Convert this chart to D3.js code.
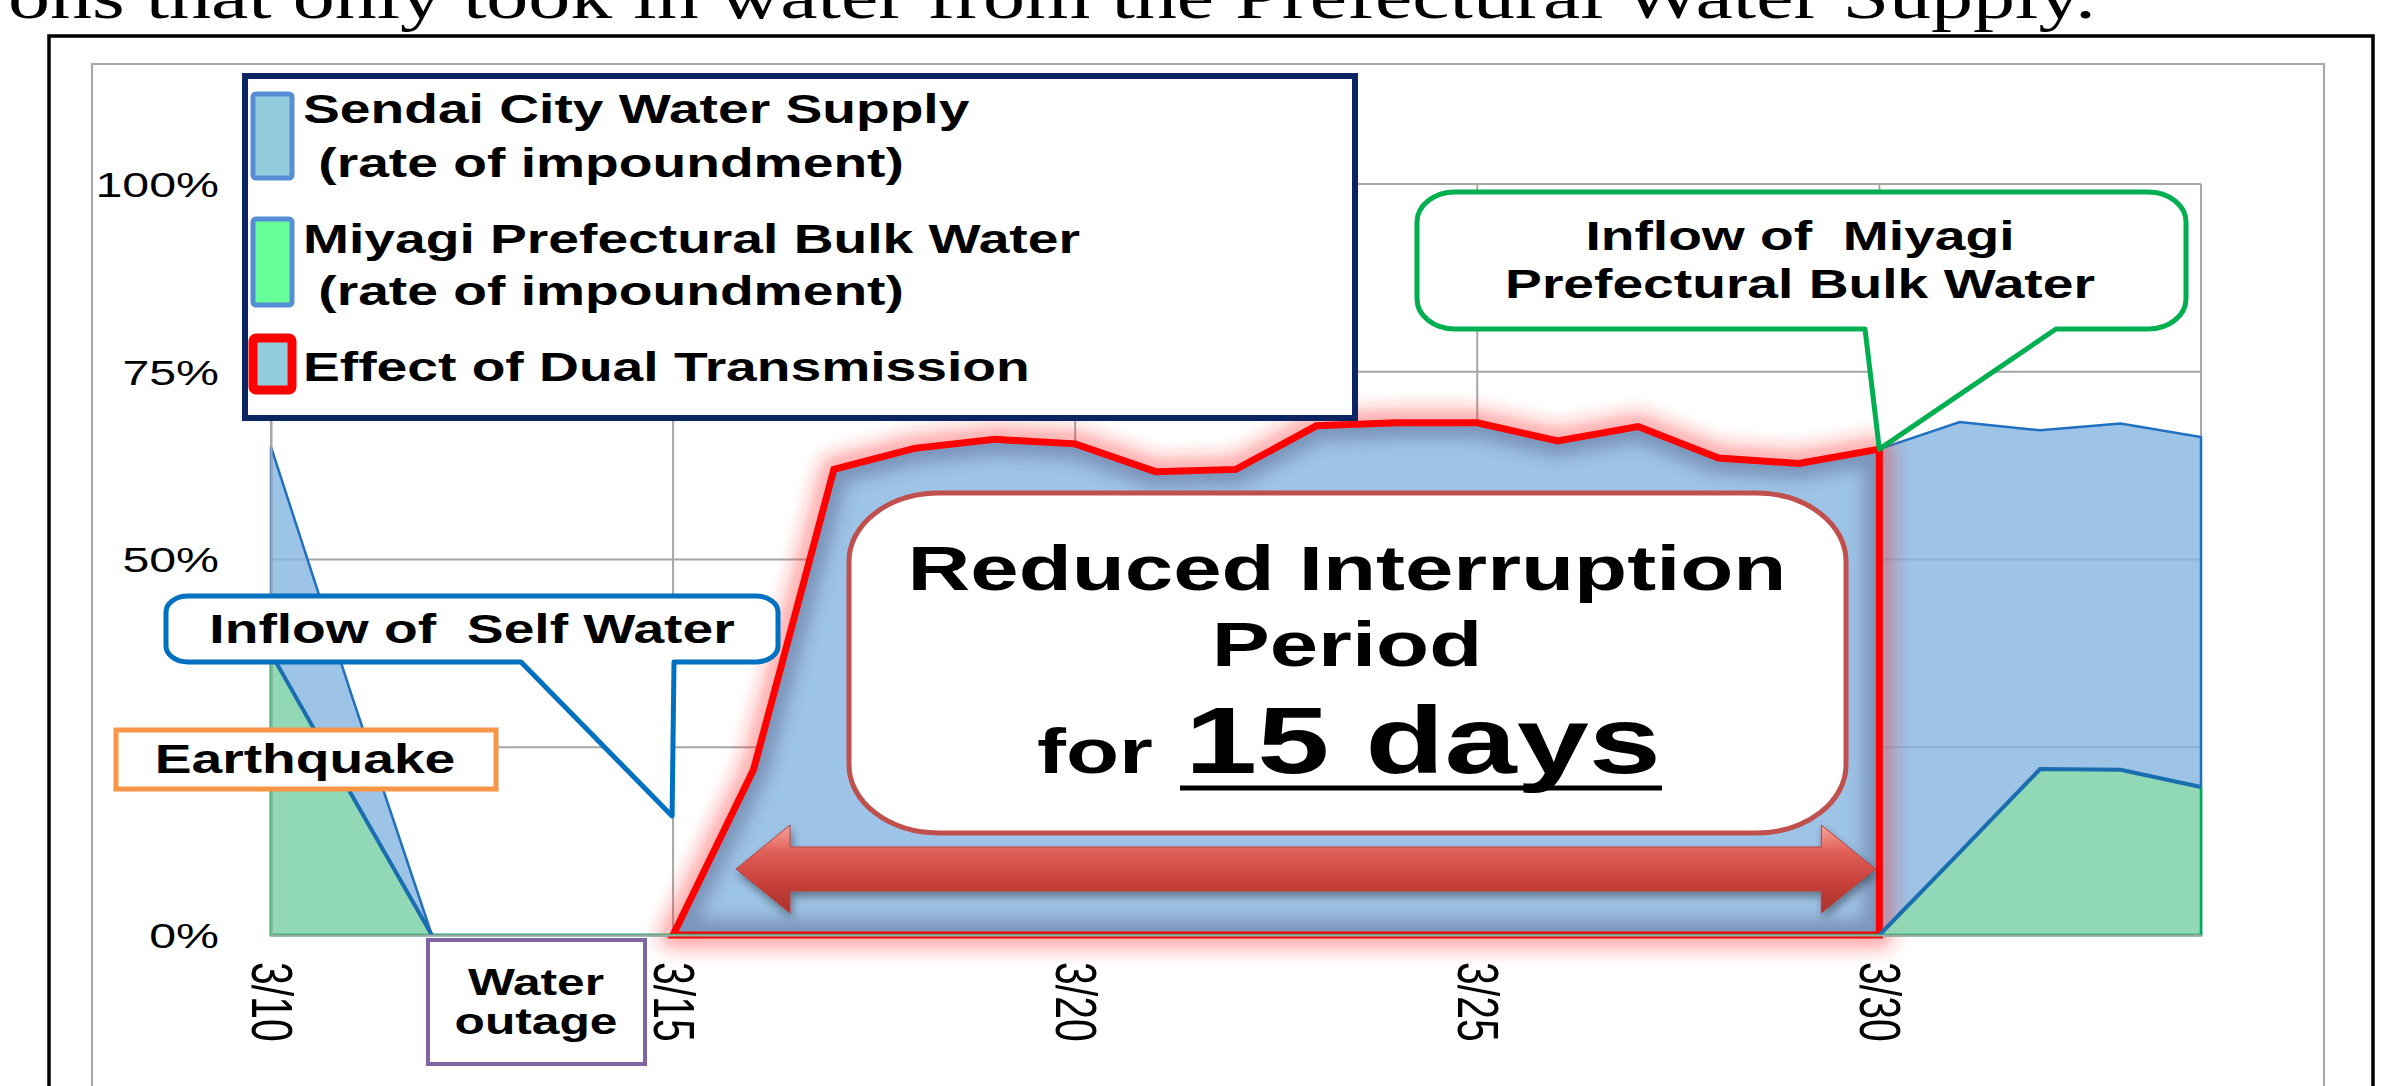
<!DOCTYPE html>
<html>
<head>
<meta charset="utf-8">
<script src="https://cdn.jsdelivr.net/npm/d3@7"></script>
<style>
	body { margin: 0; background: #fff; }
	svg { display: block; }
	text { font-family: "Liberation Sans", Arial, sans-serif; fill: #000; }
</style>
</head>
<body>
<div id="chart"></div>
<script>
"use strict";

// the slide picture is stretched sideways, so all text is too
const W = 2399, H = 1086;
const STRETCH = 1.38;
const PLOT = { left: 271, right: 2201, top: 184, bottom: 935 };

// values, percent of impoundment
const dayLabels = ["3/10", "3/11", "3/12", "3/13", "3/14", "3/15", "3/16", "3/17", "3/18", "3/19", "3/20",
	"3/21", "3/22", "3/23", "3/24", "3/25", "3/26", "3/27", "3/28", "3/29", "3/30", "3/31", "4/1", "4/2", "4/3"];
const sendaiRate = [65, 32, 0, 0, 0, 0, 22, 62, 64.8, 66, 65.4, 61.7, 62, 67.8, 68.2, 68.2, 65.8, 67.7, 63.5, 62.8, 64.7, 68.3, 67.2, 68.1, 66.3];
const miyagiRate = [37.5, 18.7, 0, 0, 0, 0, 0, 0, 0, 0, 0, 0, 0, 0, 0, 0, 0, 0, 0, 0, 0, 11, 22.1, 22, 19.7];
const dualEffect = [null, null, null, null, null, 0, 22, 62, 64.8, 66, 65.4, 61.7, 62, 67.8, 68.2, 68.2, 65.8, 67.7, 63.5, 62.8, 64.7, null, null, null, null];
const tickLabels = ["3/10", "3/15", "3/20", "3/25", "3/30"];
const yTicks = [0, 0.25, 0.5, 0.75, 1];

const parseDay = s => d3.utcParse("%m/%d/%Y")(s + "/2011");

let rows = dayLabels.map((s, i) => ({
	date: parseDay(s),
	sendai: sendaiRate[i] / 100,
	miyagi: miyagiRate[i] / 100,
	effect: dualEffect[i] == null ? null : dualEffect[i] / 100
}));
const tickDates = tickLabels.map(parseDay);

const x = d3.scaleUtc()
	.domain(d3.extent(rows, d => d.date))
	.range([PLOT.left, PLOT.right]);

const y = d3.scaleLinear()
	.domain([0, 1])
	.range([PLOT.bottom, PLOT.top]);

let svg = d3.select("#chart")
	.append("svg")
	.attr("width", W)
	.attr("height", H);

let defs = svg.append("defs");
defs.append("filter").attr("id", "glow")
	.attr("filterUnits", "userSpaceOnUse").attr("x", 0).attr("y", 0).attr("width", W).attr("height", H)
	.append("feGaussianBlur").attr("stdDeviation", 9);
defs.append("filter").attr("id", "shade")
	.attr("filterUnits", "userSpaceOnUse").attr("x", 0).attr("y", 0).attr("width", W).attr("height", H)
	.append("feGaussianBlur").attr("stdDeviation", 8);
defs.append("filter").attr("id", "drop")
	.attr("x", "-5%").attr("y", "-30%").attr("width", "110%").attr("height", "170%")
	.append("feDropShadow").attr("dx", 2).attr("dy", 5).attr("stdDeviation", 4).attr("flood-opacity", 0.4);

let grad = defs.append("linearGradient").attr("id", "arrowFill")
	.attr("x1", 0).attr("y1", 0).attr("x2", 0).attr("y2", 1);
[["0", "#f7a29c"], ["0.3", "#e0615a"], ["0.65", "#c9403a"], ["1", "#a8322d"]]
	.forEach(s => grad.append("stop").attr("offset", s[0]).attr("stop-color", s[1]));

// text helper: every label gets the same sideways stretch
function stretchText(parent, str, tx, ty, size, anchor = "start", weight = "bold") {
	return parent.append("text")
		.attr("transform", `translate(${tx},${ty}) scale(${STRETCH},1)`)
		.attr("font-size", size)
		.attr("font-weight", weight)
		.attr("text-anchor", anchor)
		.style("white-space", "pre")
		.text(str);
}

// rounded box with a speech tail on the bottom edge
function calloutPath(b) {
	const { x0, y0, w, h, rx, ry, t1, t2, tx, ty } = b;
	return `M${x0 + rx},${y0}H${x0 + w - rx}A${rx},${ry} 0 0 1 ${x0 + w},${y0 + ry}V${y0 + h - ry}` +
		`A${rx},${ry} 0 0 1 ${x0 + w - rx},${y0 + h}H${t2}L${tx},${ty}L${t1},${y0 + h}H${x0 + rx}` +
		`A${rx},${ry} 0 0 1 ${x0},${y0 + h - ry}V${y0 + ry}A${rx},${ry} 0 0 1 ${x0 + rx},${y0}Z`;
}

// slide text above the frame, cut by the top edge
svg.append("text")
	.attr("x", 8).attr("y", 18)
	.style("font-family", "'Liberation Serif', 'Times New Roman', serif")
	.attr("font-size", 64)
	.attr("textLength", 2088)
	.attr("lengthAdjust", "spacingAndGlyphs")
	.text("ons that only took in water from the Prefectural Water Supply.");

// frame and chart area
svg.append("path")
	.attr("d", `M49,${H + 10}V36H2373V${H + 10}`)
	.attr("fill", "none").attr("stroke", "#000").attr("stroke-width", 3.5);
svg.append("path")
	.attr("d", `M92,${H + 10}V64H2324V${H + 10}`)
	.attr("fill", "none").attr("stroke", "#a6a6a6").attr("stroke-width", 2);

let plot = svg.append("g");

// gridlines
plot.selectAll(".hgrid")
	.data(yTicks.slice(1))
	.enter().append("line")
	.attr("x1", PLOT.left).attr("x2", PLOT.right)
	.attr("y1", d => y(d)).attr("y2", d => y(d))
	.attr("stroke", "#a6a6a6").attr("stroke-width", 2);
plot.selectAll(".vgrid")
	.data(tickDates.concat([x.domain()[1]]))
	.enter().append("line")
	.attr("x1", d => x(d)).attr("x2", d => x(d))
	.attr("y1", PLOT.top).attr("y2", PLOT.bottom)
	.attr("stroke", "#a6a6a6").attr("stroke-width", 2);

// series shapes
const areaOf = key => d3.area()
	.defined(d => d[key] != null)
	.x(d => x(d.date))
	.y0(y(0))
	.y1(d => y(d[key]));

const sendaiArea = areaOf("sendai");
const miyagiArea = areaOf("miyagi");
const effectArea = areaOf("effect");

plot.append("path")
	.attr("d", sendaiArea(rows))
	.attr("fill", "#85b4e0").attr("fill-opacity", 0.8)
	.attr("stroke", "#1f70c1").attr("stroke-width", 2.5);

// effect of dual transmission: red outline with a soft halo
const effectD = effectArea(rows);
defs.append("clipPath").attr("id", "effectClip").append("path").attr("d", effectD);

plot.append("path")
	.attr("d", effectD)
	.attr("fill", "none").attr("stroke", "#ff2a2a").attr("stroke-opacity", 0.4)
	.attr("stroke-width", 28).attr("stroke-linejoin", "round")
	.attr("filter", "url(#glow)");
plot.append("path")
	.attr("d", effectD)
	.attr("fill", "#9dc3e6");
plot.append("g").attr("clip-path", "url(#effectClip)")
	.append("path")
	.attr("d", effectD)
	.attr("fill", "none").attr("stroke", "#4a4f78").attr("stroke-opacity", 0.4)
	.attr("stroke-width", 32).attr("filter", "url(#shade)");
plot.append("path")
	.attr("d", effectD)
	.attr("fill", "none").attr("stroke", "#ff0000")
	.attr("stroke-width", 7).attr("stroke-linejoin", "miter");

plot.append("path")
	.attr("d", miyagiArea(rows))
	.attr("fill", "#8fdab0").attr("fill-opacity", 0.9)
	.attr("stroke", "#00b050").attr("stroke-width", 2.5);

plot.append("path")
	.attr("d", d3.line()
		.defined((d, i) => d.miyagi > 0 || (rows[i - 1] && rows[i - 1].miyagi > 0) || (rows[i + 1] && rows[i + 1].miyagi > 0))
		.x(d => x(d.date))
		.y(d => y(d.miyagi))(rows))
	.attr("fill", "none").attr("stroke", "#1a6daf").attr("stroke-width", 4);

// axes
let xAxis = plot.append("g")
	.attr("transform", `translate(0,${PLOT.bottom})`)
	.call(d3.axisBottom(x).tickValues(tickDates).tickFormat(d3.utcFormat("%-m/%-d")).tickSize(0).tickSizeOuter(0));
xAxis.select(".domain").attr("stroke", "#a6a6a6").attr("stroke-width", 2);
xAxis.selectAll("text")
	.attr("y", null).attr("x", 0).attr("dy", "0.35em")
	.attr("text-anchor", "start")
	.attr("font-size", 41)
	.attr("fill", "#000")
	.attr("transform", `translate(0,27) scale(${STRETCH},1) rotate(90)`);

let yAxis = plot.append("g")
	.attr("transform", `translate(${PLOT.left},0)`)
	.call(d3.axisLeft(y).tickValues(yTicks).tickFormat(d3.format(".0%")).tickSize(0).tickSizeOuter(0));
yAxis.select(".domain").attr("stroke", "#a6a6a6").attr("stroke-width", 2);
yAxis.selectAll("text")
	.attr("x", null).attr("dy", "0.35em")
	.attr("font-size", 35)
	.attr("fill", "#000")
	.attr("transform", `translate(-52,0) scale(${STRETCH},1)`);
// the 25% label sits under the Earthquake box in the original
yAxis.selectAll(".tick").filter(d => d === 0.25).select("text").remove();

let notes = svg.append("g");

// 15 day double arrow
const arrowL = 736, arrowR = x(tickDates[4]) - 4, arrowY = 869;
const head = 54, shaft = 22, barb = 44;
notes.append("path")
	.attr("d", `M${arrowL},${arrowY}L${arrowL + head},${arrowY - barb}V${arrowY - shaft}H${arrowR - head}V${arrowY - barb}` +
		`L${arrowR},${arrowY}L${arrowR - head},${arrowY + barb}V${arrowY + shaft}H${arrowL + head}V${arrowY + barb}Z`)
	.attr("fill", "url(#arrowFill)")
	.attr("stroke", "#b5403a").attr("stroke-width", 1)
	.attr("filter", "url(#drop)");

// reduced interruption box
notes.append("rect")
	.attr("x", 849).attr("y", 493).attr("width", 997).attr("height", 340)
	.attr("rx", 90).attr("ry", 68)
	.attr("fill", "#fff").attr("stroke", "#c0504d").attr("stroke-width", 5);
stretchText(notes, "Reduced Interruption", 1347, 590, 63, "middle");
stretchText(notes, "Period", 1347, 666, 63, "middle");
stretchText(notes, "for", 1037, 773, 63);
stretchText(notes, "15 days", 1185, 773, 94);
notes.append("line")
	.attr("x1", 1180).attr("x2", 1662).attr("y1", 788).attr("y2", 788)
	.attr("stroke", "#000").attr("stroke-width", 5);

// callouts
notes.append("path")
	.attr("d", calloutPath({ x0: 166, y0: 596, w: 612, h: 66, rx: 22, ry: 16, t1: 521, t2: 674, tx: x(tickDates[1]) - 1, ty: 816 }))
	.attr("fill", "#fff").attr("stroke", "#0070c0").attr("stroke-width", 5).attr("stroke-linejoin", "round");
stretchText(notes, "Inflow of  Self Water", 472, 643, 40, "middle");

const inflowDay = rows[20];
notes.append("path")
	.attr("d", calloutPath({ x0: 1417, y0: 192, w: 769, h: 137, rx: 38, ry: 30, t1: 1865, t2: 2056, tx: x(inflowDay.date), ty: y(inflowDay.sendai) }))
	.attr("fill", "#fff").attr("stroke", "#00b050").attr("stroke-width", 5).attr("stroke-linejoin", "round");
stretchText(notes, "Inflow of  Miyagi", 1800, 250, 40, "middle");
stretchText(notes, "Prefectural Bulk Water", 1800, 298, 40, "middle");

notes.append("rect")
	.attr("x", 116).attr("y", 730).attr("width", 380).attr("height", 59)
	.attr("fill", "#fff").attr("stroke", "#f79646").attr("stroke-width", 5);
stretchText(notes, "Earthquake", 305, 773, 40, "middle");

notes.append("rect")
	.attr("x", 428).attr("y", 940).attr("width", 217).attr("height", 124)
	.attr("fill", "#fff").attr("stroke", "#8064a2").attr("stroke-width", 4);
stretchText(notes, "Water", 536, 995, 36, "middle");
stretchText(notes, "outage", 536, 1034, 36, "middle");

// legend
let legend = svg.append("g");
legend.append("rect")
	.attr("x", 245).attr("y", 76).attr("width", 1110).attr("height", 342)
	.attr("fill", "#fff").attr("stroke", "#0b2462").attr("stroke-width", 6);

const legendKeys = [
	{ y0: 94, h: 84, fill: "#93cddd", stroke: "#558ed5", sw: 5, lines: ["Sendai City Water Supply", " (rate of impoundment)"], base: [123, 177] },
	{ y0: 219, h: 86, fill: "#66ff99", stroke: "#558ed5", sw: 5, lines: ["Miyagi Prefectural Bulk Water", " (rate of impoundment)"], base: [253, 305] },
	{ y0: 338, h: 52, fill: "#93cddd", stroke: "#ff0000", sw: 9, lines: ["Effect of Dual Transmission"], base: [381] }
];
legendKeys.forEach(k => {
	legend.append("rect")
		.attr("x", 253).attr("y", k.y0).attr("width", 39).attr("height", k.h).attr("rx", 3)
		.attr("fill", k.fill).attr("stroke", k.stroke).attr("stroke-width", k.sw);
	k.lines.forEach((ln, i) => stretchText(legend, ln, 303, k.base[i], 40));
});
</script>
</body>
</html>
